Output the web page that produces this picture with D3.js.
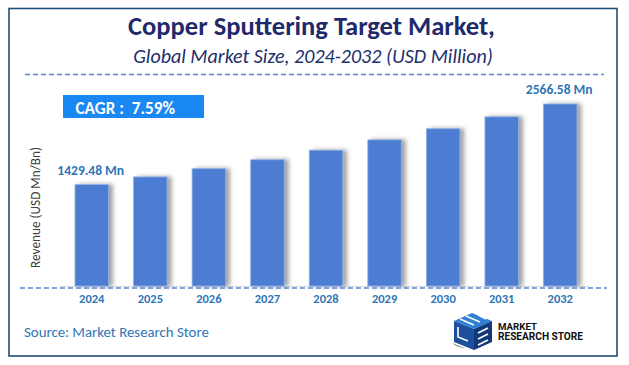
<!DOCTYPE html>
<html><head><meta charset="utf-8">
<script src="https://cdn.jsdelivr.net/npm/d3@7"></script>
<style>html,body{margin:0;padding:0;background:#fff;}svg{display:block;}</style>
</head><body>
<svg id="chart" width="629" height="365"></svg>
<script>
const years = ["2024","2025","2026","2027","2028","2029","2030","2031","2032"];
const values = [1429.48, 1537.98, 1654.73, 1780.32, 1915.45, 2060.83, 2217.25, 2385.54, 2566.58];
const valueLabels = [{i:0, text:"1429.48 Mn"}, {i:8, text:"2566.58 Mn"}];
const titleText = "Copper Sputtering Target Market,";
const subtitleText = "Global Market Size, 2024-2032 (USD Million)";
const cagrText = "CAGR :  7.59%";
const yAxisTitle = "Revenue (USD Mn/Bn)";
const sourceText = "Source: Market Research Store";

const FONT = "Carlito, Lato, 'Open Sans', sans-serif";
const svg = d3.select("#chart");

function fit(sel, w) {
  const node = sel.node();
  const fs = parseFloat(sel.attr("font-size"));
  const len = node.getComputedTextLength();
  if (len > 0) sel.attr("font-size", (fs * w / len).toFixed(2));
  return sel;
}

// defs: shadow
const defs = svg.append("defs");
const f = defs.append("filter").attr("id","shadow").attr("x","-20%").attr("y","-10%").attr("width","160%").attr("height","120%");
f.append("feDropShadow").attr("dx",4).attr("dy",0).attr("stdDeviation",2).attr("flood-color","#555").attr("flood-opacity",0.55);

// frame
svg.append("rect").attr("x",9).attr("y",8.5).attr("width",608).attr("height",347.5)
  .attr("fill","#fff").attr("stroke","#1f4e79").attr("stroke-width",1.6);

// title
fit(svg.append("text").attr("x",311.5).attr("y",35).attr("text-anchor","middle")
  .attr("font-family",FONT).attr("font-weight","bold").attr("font-size",24)
  .attr("fill","#1f2a6b").text(titleText), 367);
fit(svg.append("text").attr("x",313).attr("y",62.5).attr("text-anchor","middle")
  .attr("font-family",FONT).attr("font-style","italic").attr("font-size",18)
  .attr("fill","#23306e").text(subtitleText), 360);

// top dashed line
svg.append("line").attr("x1",25).attr("x2",604).attr("y1",74.5).attr("y2",74.5)
  .attr("stroke","#5b86d3").attr("stroke-width",1.3).attr("stroke-dasharray","5,3");

// scales
const x = d3.scaleBand().domain(years).range([75, 577]).paddingInner(0.428).paddingOuter(0);
const y = d3.scaleLinear().domain([0, 3000]).range([286, 286 - 3000*0.07091]);

// CAGR box
svg.append("rect").attr("x",63).attr("y",95).attr("width",141).attr("height",23).attr("fill","#1a88f2");
fit(svg.append("text").attr("x",75.5).attr("y",113.5).attr("font-family",FONT).attr("font-weight","bold")
  .attr("font-size",16).attr("fill","#fff").attr("xml:space","preserve").style("white-space","pre").text(cagrText), 99.5);

// y axis title
fit(svg.append("text").attr("transform","translate(39.5,207.5) rotate(-90)").attr("text-anchor","middle")
  .attr("font-family",FONT).attr("font-size",12.5).attr("fill","#404040").text(yAxisTitle), 121);

// baseline solid
svg.append("line").attr("x1",60).attr("x2",589).attr("y1",286.5).attr("y2",286.5)
  .attr("stroke","#d9d9d9").attr("stroke-width",1);

// bars
svg.append("g").selectAll("rect").data(values).join("rect")
  .attr("x",(d,i)=>x(years[i])).attr("width",x.bandwidth())
  .attr("y",d=>y(d)).attr("height",d=>y(0)-y(d))
  .attr("fill","#4d7dd3").attr("stroke","#8fb0e6").attr("stroke-width",0.8)
  .attr("filter","url(#shadow)");

// bottom dashed line
svg.append("line").attr("x1",20).attr("x2",607).attr("y1",288).attr("y2",288)
  .attr("stroke","#5b86d3").attr("stroke-width",1.3).attr("stroke-dasharray","5,3");

// x axis labels
const xAxis = d3.axisBottom(x).tickSize(0).tickPadding(0);
const gx = svg.append("g").attr("transform","translate(0,294)").call(xAxis);
gx.select(".domain").remove();
gx.selectAll("text").attr("font-family",FONT).attr("font-weight","bold").attr("font-size",12.5)
  .attr("fill","#2e75b6").attr("dy","0.71em");

// value labels
valueLabels.forEach(v => {
  svg.append("text").attr("x", x(years[v.i]) + x.bandwidth()/2 - 1).attr("y", y(values[v.i]) - 10)
    .attr("text-anchor","middle").attr("font-family",FONT).attr("font-weight","bold")
    .attr("font-size",13.5).attr("fill","#2e75b6").text(v.text);
});

// source
fit(svg.append("text").attr("x",24).attr("y",337).attr("font-family",FONT).attr("font-size",14)
  .attr("fill","#2e75b6").text(sourceText), 185);

// logo
const lg = svg.append("g").attr("transform","translate(452,313)");
lg.append("polygon").attr("points","2,8 20,0 40,8 22,16").attr("fill","#2f7fd6");
lg.append("polygon").attr("points","2,8 22,16 22,37 2,29").attr("fill","#1d4f9c");
lg.append("polygon").attr("points","22,16 40,8 40,29 22,37").attr("fill","#123a78");
lg.append("path").attr("d","M8,6 L22,12 M14,3 L28,9 M26,2 L34,6").attr("stroke","#fff").attr("stroke-width",1.6).attr("fill","none");
lg.append("path").attr("d","M6,14 L6,24 L16,28 M26,20 L36,15 M26,26 L36,21 M26,32 L36,27").attr("stroke","#fff").attr("stroke-width",1.6).attr("fill","none");
lg.append("polygon").attr("points","0,30 10,34 14,36 4,33").attr("fill","#888");
const lt1 = svg.append("text").attr("x",498).attr("y",330).attr("font-family","'Liberation Sans Narrow', Roboto, sans-serif")
  .attr("font-weight","bold").attr("font-size",11.5).attr("fill","#111").text("MARKET");
fit(lt1, 39);
const lt2 = svg.append("text").attr("x",498).attr("y",339.5).attr("font-family","'Liberation Sans Narrow', Roboto, sans-serif")
  .attr("font-weight","bold").attr("font-size",11.5).attr("fill","#111").text("RESEARCH STORE");
fit(lt2, 85);
</script>
</body></html>
